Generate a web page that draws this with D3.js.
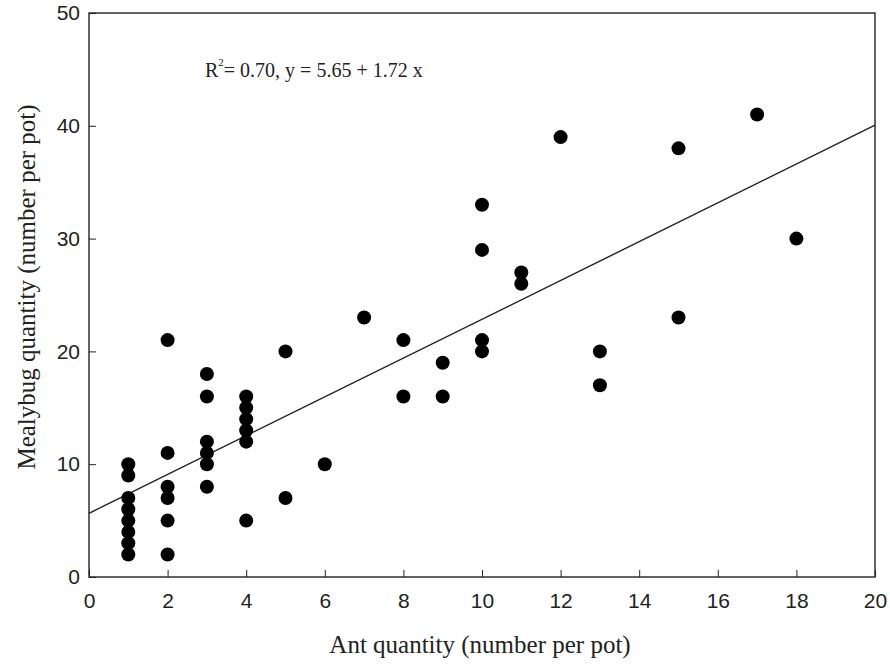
<!DOCTYPE html>
<html lang="en">
<head>
    <meta charset="UTF-8">
    <title>Mealybug vs Ant quantity</title>
    <script src="https://d3js.org/d3.v7.min.js"></script>
    <style>
        body { margin: 0; background: #fff; }
        .tick text { font-family: "Liberation Sans", Arial, sans-serif; font-size: 21px; fill: #222; }
        .axis-title { font-family: "Liberation Serif", "Times New Roman", serif; font-size: 25px; fill: #222; }
        .note { font-family: "Liberation Serif", "Times New Roman", serif; font-size: 20px; fill: #222; }
    </style>
</head>
<body>
<script>
    // Ant quantity (x) and mealybug quantity (y) per pot
    const antCounts = [1, 1, 1, 1, 1, 1, 1, 1,
        2, 2, 2, 2, 2, 2,
        3, 3, 3, 3, 3, 3,
        4, 4, 4, 4, 4, 4,
        5, 5, 6, 7, 8, 8, 9, 9,
        10, 10, 10, 10, 11, 11, 12, 13, 13, 15, 15, 17, 18];
    const mealybugCounts = [10, 9, 7, 6, 5, 4, 3, 2,
        21, 11, 8, 7, 5, 2,
        18, 16, 12, 11, 10, 8,
        16, 15, 14, 13, 12, 5,
        20, 7, 10, 23, 21, 16, 19, 16,
        33, 29, 21, 20, 27, 26, 39, 20, 17, 38, 23, 41, 30];

    // fitted line y = a + b x
    const intercept = 5.65;
    const slope = 1.72;

    const xTicks = d3.range(0, 21, 2);
    const yTicks = d3.range(0, 51, 10);

    const width = 890;
    const height = 666;
    const margin = { top: 13, right: 15, bottom: 89, left: 89 };
    const innerW = width - margin.left - margin.right;
    const innerH = height - margin.top - margin.bottom;

    const svg = d3.select('body').append('svg')
        .attr('width', width)
        .attr('height', height);

    const g = svg.append('g')
        .attr('transform', `translate(${margin.left},${margin.top})`);

    const x = d3.scaleLinear().domain([0, 20]).range([0, innerW]);
    const y = d3.scaleLinear().domain([0, 50]).range([innerH, 0]);

    // axes, ticks pointing inward
    g.append('g')
        .attr('transform', `translate(0,${innerH})`)
        .call(d3.axisBottom(x).tickValues(xTicks).tickSizeInner(-7).tickSizeOuter(0).tickPadding(16))
        .call(a => a.select('.domain').remove())
        .call(a => a.selectAll('line').attr('stroke', '#222'));

    g.append('g')
        .call(d3.axisLeft(y).tickValues(yTicks).tickSizeInner(-7).tickSizeOuter(0).tickPadding(9))
        .call(a => a.select('.domain').remove())
        .call(a => a.selectAll('line').attr('stroke', '#222'));

    // frame
    g.append('rect')
        .attr('width', innerW)
        .attr('height', innerH)
        .attr('fill', 'none')
        .attr('stroke', '#222')
        .attr('stroke-width', 1.4);

    // regression line
    g.append('line')
        .attr('x1', x(0)).attr('y1', y(intercept))
        .attr('x2', x(20)).attr('y2', y(intercept + slope * 20))
        .attr('stroke', '#222')
        .attr('stroke-width', 1.4);

    // points
    g.selectAll('.dot')
        .data(antCounts.map((a, i) => [a, mealybugCounts[i]]))
        .enter().append('circle')
        .attr('class', 'dot')
        .attr('cx', d => x(d[0]))
        .attr('cy', d => y(d[1]))
        .attr('r', 7)
        .attr('fill', '#000');

    // annotation
    const note = g.append('text')
        .attr('class', 'note')
        .attr('x', 116)
        .attr('y', 64);
    note.append('tspan').text('R');
    note.append('tspan').attr('dy', -11).attr('font-size', '11px').text('2');
    note.append('tspan').attr('dy', 11).text('= 0.70, y = 5.65 + 1.72 x');

    // axis titles
    svg.append('text')
        .attr('class', 'axis-title')
        .attr('x', 480)
        .attr('y', 653)
        .attr('text-anchor', 'middle')
        .text('Ant quantity (number per pot)');

    svg.append('text')
        .attr('class', 'axis-title')
        .attr('transform', `translate(35,287) rotate(-90)`)
        .attr('text-anchor', 'middle')
        .text('Mealybug quantity (number per pot)');
</script>
</body>
</html>
